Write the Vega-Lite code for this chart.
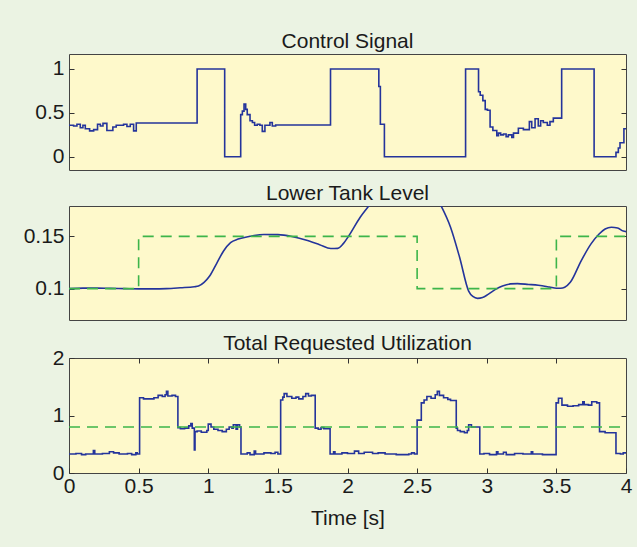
{
  "$schema": "https://vega.github.io/schema/vega-lite/v6.json",
  "background": "#EBF3E3",
  "padding": {"left": 20, "top": 30, "right": 11, "bottom": 36},
  "config": {
    "font": "Liberation Sans",
    "view": {"fill": "#FEF9CB", "stroke": "#444444", "strokeWidth": 1},
    "axis": {"labelFont": "Liberation Sans", "labelFontSize": 21, "labelColor": "#1a1a1a", "domain": false, "grid": false, "tickColor": "#333333", "tickSize": -5, "labelPadding": 10, "titleFont": "Liberation Sans", "titleFontSize": 21, "titleFontWeight": "normal", "titleColor": "#1a1a1a", "labelFlush": false},
    "title": {"font": "Liberation Sans", "fontSize": 21, "fontWeight": "normal", "color": "#1a1a1a", "offset": 2, "frame": "group"},
    "concat": {"spacing": 11}
  },
  "datasets": {
    "control": [
      {"t": 0, "v": 0.36}, {"t": 0.033, "v": 0.35}, {"t": 0.057, "v": 0.37}, {"t": 0.081, "v": 0.33}, {"t": 0.1, "v": 0.36},
      {"t": 0.117, "v": 0.32}, {"t": 0.148, "v": 0.295}, {"t": 0.177, "v": 0.31}, {"t": 0.205, "v": 0.37}, {"t": 0.225, "v": 0.35},
      {"t": 0.244, "v": 0.38}, {"t": 0.272, "v": 0.3}, {"t": 0.315, "v": 0.34}, {"t": 0.339, "v": 0.36}, {"t": 0.392, "v": 0.37},
      {"t": 0.416, "v": 0.345}, {"t": 0.44, "v": 0.37}, {"t": 0.464, "v": 0.295}, {"t": 0.483, "v": 0.385},
      {"t": 0.92, "v": 1}, {"t": 1.118, "v": 0}, {"t": 1.233, "v": 0.48}, {"t": 1.245, "v": 0.52}, {"t": 1.257, "v": 0.6},
      {"t": 1.269, "v": 0.54}, {"t": 1.28, "v": 0.48}, {"t": 1.3, "v": 0.41}, {"t": 1.317, "v": 0.39}, {"t": 1.333, "v": 0.36},
      {"t": 1.352, "v": 0.37}, {"t": 1.371, "v": 0.36}, {"t": 1.388, "v": 0.29}, {"t": 1.407, "v": 0.36}, {"t": 1.443, "v": 0.39},
      {"t": 1.46, "v": 0.35}, {"t": 1.484, "v": 0.362}, {"t": 1.878, "v": 1}, {"t": 2.225, "v": 0.8}, {"t": 2.236, "v": 0.37},
      {"t": 2.265, "v": 0}, {"t": 2.848, "v": 1}, {"t": 2.941, "v": 0.74}, {"t": 2.953, "v": 0.7}, {"t": 2.972, "v": 0.64},
      {"t": 2.989, "v": 0.54}, {"t": 3.005, "v": 0.53}, {"t": 3.024, "v": 0.34}, {"t": 3.044, "v": 0.3}, {"t": 3.072, "v": 0.24},
      {"t": 3.084, "v": 0.27}, {"t": 3.1, "v": 0.25}, {"t": 3.12, "v": 0.26}, {"t": 3.139, "v": 0.23}, {"t": 3.155, "v": 0.25},
      {"t": 3.18, "v": 0.22}, {"t": 3.192, "v": 0.27}, {"t": 3.227, "v": 0.325}, {"t": 3.263, "v": 0.31}, {"t": 3.306, "v": 0.4},
      {"t": 3.323, "v": 0.33}, {"t": 3.347, "v": 0.434}, {"t": 3.37, "v": 0.35}, {"t": 3.387, "v": 0.41}, {"t": 3.406, "v": 0.39},
      {"t": 3.435, "v": 0.36}, {"t": 3.454, "v": 0.4}, {"t": 3.478, "v": 0.44}, {"t": 3.538, "v": 1}, {"t": 3.771, "v": 0},
      {"t": 3.928, "v": 0.05}, {"t": 3.945, "v": 0.1}, {"t": 3.957, "v": 0.16}, {"t": 3.985, "v": 0.32}, {"t": 4.0, "v": 0.32}
    ],
    "level": [
      {"t": 0, "v": 0.1}, {"t": 0.1, "v": 0.1005}, {"t": 0.2, "v": 0.1005}, {"t": 0.3, "v": 0.1002}, {"t": 0.4, "v": 0.1},
      {"t": 0.5, "v": 0.0998}, {"t": 0.6, "v": 0.0998}, {"t": 0.7, "v": 0.1}, {"t": 0.8, "v": 0.1008}, {"t": 0.9, "v": 0.1018},
      {"t": 0.93, "v": 0.1025}, {"t": 0.97, "v": 0.106}, {"t": 1.01, "v": 0.112}, {"t": 1.06, "v": 0.124}, {"t": 1.11, "v": 0.136},
      {"t": 1.16, "v": 0.144}, {"t": 1.215, "v": 0.1474}, {"t": 1.3, "v": 0.15}, {"t": 1.4, "v": 0.1518}, {"t": 1.5, "v": 0.1516},
      {"t": 1.6, "v": 0.1498}, {"t": 1.7, "v": 0.1465}, {"t": 1.8, "v": 0.142}, {"t": 1.88, "v": 0.1383}, {"t": 1.93, "v": 0.1385},
      {"t": 1.97, "v": 0.143}, {"t": 2.01, "v": 0.1506}, {"t": 2.09, "v": 0.168}, {"t": 2.165, "v": 0.181}, {"t": 2.25, "v": 0.195},
      {"t": 2.35, "v": 0.205}, {"t": 2.45, "v": 0.208}, {"t": 2.55, "v": 0.203}, {"t": 2.62, "v": 0.192}, {"t": 2.665, "v": 0.181},
      {"t": 2.74, "v": 0.1587}, {"t": 2.805, "v": 0.13}, {"t": 2.87, "v": 0.0977}, {"t": 2.9, "v": 0.0925}, {"t": 2.934, "v": 0.0907},
      {"t": 2.97, "v": 0.0915}, {"t": 3.01, "v": 0.0945}, {"t": 3.06, "v": 0.099}, {"t": 3.113, "v": 0.1025}, {"t": 3.17, "v": 0.1045},
      {"t": 3.22, "v": 0.1048}, {"t": 3.3, "v": 0.104}, {"t": 3.37, "v": 0.1032}, {"t": 3.45, "v": 0.1015}, {"t": 3.5, "v": 0.1003},
      {"t": 3.53, "v": 0.1003}, {"t": 3.56, "v": 0.1013}, {"t": 3.6, "v": 0.106}, {"t": 3.678, "v": 0.1266}, {"t": 3.75, "v": 0.143},
      {"t": 3.805, "v": 0.152}, {"t": 3.85, "v": 0.157}, {"t": 3.895, "v": 0.1587}, {"t": 3.94, "v": 0.158}, {"t": 3.98, "v": 0.155},
      {"t": 4.0, "v": 0.1545}
    ],
    "levelRef": [
      {"t": 0, "v": 0.1}, {"t": 0.5, "v": 0.1}, {"t": 0.5, "v": 0.15}, {"t": 2.5, "v": 0.15}, {"t": 2.5, "v": 0.1},
      {"t": 3.5, "v": 0.1}, {"t": 3.5, "v": 0.15}, {"t": 4, "v": 0.15}
    ],
    "util": [
      {"t": 0, "v": 0.33}, {"t": 0.05, "v": 0.34}, {"t": 0.09, "v": 0.32}, {"t": 0.12, "v": 0.33}, {"t": 0.175, "v": 0.39},
      {"t": 0.185, "v": 0.33}, {"t": 0.24, "v": 0.34}, {"t": 0.29, "v": 0.37}, {"t": 0.32, "v": 0.35}, {"t": 0.36, "v": 0.33},
      {"t": 0.42, "v": 0.34}, {"t": 0.45, "v": 0.32}, {"t": 0.48, "v": 0.35}, {"t": 0.49, "v": 0.33}, {"t": 0.507, "v": 1.31},
      {"t": 0.535, "v": 1.29}, {"t": 0.61, "v": 1.31}, {"t": 0.64, "v": 1.35}, {"t": 0.67, "v": 1.33}, {"t": 0.69, "v": 1.36},
      {"t": 0.7, "v": 1.42}, {"t": 0.71, "v": 1.34}, {"t": 0.74, "v": 1.35}, {"t": 0.765, "v": 1.33}, {"t": 0.782, "v": 0.79},
      {"t": 0.8, "v": 0.77}, {"t": 0.83, "v": 0.78}, {"t": 0.86, "v": 0.82}, {"t": 0.875, "v": 0.86}, {"t": 0.885, "v": 0.78},
      {"t": 0.9, "v": 0.4}, {"t": 0.905, "v": 0.72}, {"t": 0.92, "v": 0.73}, {"t": 0.95, "v": 0.71}, {"t": 0.99, "v": 0.74},
      {"t": 1.0, "v": 0.85}, {"t": 1.02, "v": 0.8}, {"t": 1.04, "v": 0.76}, {"t": 1.07, "v": 0.74}, {"t": 1.1, "v": 0.72},
      {"t": 1.13, "v": 0.76}, {"t": 1.15, "v": 0.8}, {"t": 1.17, "v": 0.78}, {"t": 1.18, "v": 0.84}, {"t": 1.2, "v": 0.76},
      {"t": 1.21, "v": 0.84}, {"t": 1.225, "v": 0.8}, {"t": 1.235, "v": 0.33}, {"t": 1.28, "v": 0.35}, {"t": 1.3, "v": 0.32},
      {"t": 1.33, "v": 0.38}, {"t": 1.34, "v": 0.33}, {"t": 1.4, "v": 0.35}, {"t": 1.45, "v": 0.34}, {"t": 1.48, "v": 0.36},
      {"t": 1.5, "v": 0.33}, {"t": 1.52, "v": 1.27}, {"t": 1.535, "v": 1.32}, {"t": 1.545, "v": 1.38}, {"t": 1.565, "v": 1.33},
      {"t": 1.6, "v": 1.3}, {"t": 1.63, "v": 1.32}, {"t": 1.65, "v": 1.29}, {"t": 1.68, "v": 1.33}, {"t": 1.7, "v": 1.38},
      {"t": 1.72, "v": 1.34}, {"t": 1.74, "v": 1.35}, {"t": 1.768, "v": 0.78}, {"t": 1.79, "v": 0.76}, {"t": 1.81, "v": 0.79},
      {"t": 1.83, "v": 0.77}, {"t": 1.875, "v": 0.33}, {"t": 1.9, "v": 0.37}, {"t": 1.91, "v": 0.33}, {"t": 1.96, "v": 0.35},
      {"t": 2.0, "v": 0.34}, {"t": 2.05, "v": 0.38}, {"t": 2.08, "v": 0.34}, {"t": 2.12, "v": 0.36}, {"t": 2.18, "v": 0.34},
      {"t": 2.22, "v": 0.35}, {"t": 2.27, "v": 0.33}, {"t": 2.35, "v": 0.32}, {"t": 2.44, "v": 0.33}, {"t": 2.46, "v": 0.35},
      {"t": 2.48, "v": 0.33}, {"t": 2.5, "v": 0.92}, {"t": 2.53, "v": 1.22}, {"t": 2.55, "v": 1.27}, {"t": 2.57, "v": 1.33},
      {"t": 2.6, "v": 1.3}, {"t": 2.63, "v": 1.36}, {"t": 2.645, "v": 1.42}, {"t": 2.66, "v": 1.35}, {"t": 2.69, "v": 1.31},
      {"t": 2.72, "v": 1.28}, {"t": 2.74, "v": 1.26}, {"t": 2.781, "v": 0.78}, {"t": 2.79, "v": 0.74}, {"t": 2.81, "v": 0.72},
      {"t": 2.84, "v": 0.7}, {"t": 2.86, "v": 0.74}, {"t": 2.87, "v": 0.84}, {"t": 2.89, "v": 0.8}, {"t": 2.95, "v": 0.33},
      {"t": 2.98, "v": 0.34}, {"t": 3.02, "v": 0.32}, {"t": 3.07, "v": 0.37}, {"t": 3.08, "v": 0.33}, {"t": 3.12, "v": 0.36},
      {"t": 3.14, "v": 0.32}, {"t": 3.2, "v": 0.34}, {"t": 3.26, "v": 0.33}, {"t": 3.32, "v": 0.37}, {"t": 3.33, "v": 0.33},
      {"t": 3.4, "v": 0.32}, {"t": 3.498, "v": 1.22}, {"t": 3.515, "v": 1.3}, {"t": 3.54, "v": 1.18}, {"t": 3.58, "v": 1.16},
      {"t": 3.62, "v": 1.17}, {"t": 3.66, "v": 1.19}, {"t": 3.69, "v": 1.24}, {"t": 3.7, "v": 1.19}, {"t": 3.73, "v": 1.18},
      {"t": 3.754, "v": 1.24}, {"t": 3.79, "v": 1.22}, {"t": 3.81, "v": 0.72}, {"t": 3.85, "v": 0.7}, {"t": 3.928, "v": 0.34},
      {"t": 3.96, "v": 0.33}, {"t": 3.98, "v": 0.35}, {"t": 4.0, "v": 0.35}
    ],
    "utilRef": [
      {"t": 0, "v": 0.8}, {"t": 4, "v": 0.8}
    ]
  },
  "vconcat": [
    {
      "title": "Control Signal",
      "width": 557,
      "height": 116,
      "layer": [
        {
          "data": {"name": "control"},
          "mark": {"type": "line", "interpolate": "step-after", "color": "#24349B", "strokeWidth": 1.6, "clip": true},
          "encoding": {
            "x": {"field": "t", "type": "quantitative", "scale": {"domain": [0, 4], "nice": false}, "axis": null},
            "y": {"field": "v", "type": "quantitative", "scale": {"domain": [-0.15, 1.17], "nice": false, "zero": false},
                  "axis": {"title": null, "values": [0, 0.5, 1], "format": "~g", "minExtent": 48, "maxExtent": 48}}
          }
        },
        {
          "data": {"name": "control"},
          "mark": {"type": "line", "opacity": 0},
          "encoding": {
            "x": {"field": "t", "type": "quantitative", "axis": null},
            "y": {"field": "v", "type": "quantitative", "axis": {"orient": "right", "title": null, "labels": false, "values": [0, 0.5, 1], "minExtent": 0, "maxExtent": 0}}
          }
        }
      ],
      "resolve": {"axis": {"y": "independent"}}
    },
    {
      "title": "Lower Tank Level",
      "width": 557,
      "height": 114,
      "layer": [
        {
          "data": {"name": "level"},
          "mark": {"type": "line", "interpolate": "monotone", "color": "#24349B", "strokeWidth": 1.6, "clip": true},
          "encoding": {
            "x": {"field": "t", "type": "quantitative", "scale": {"domain": [0, 4], "nice": false}, "axis": null},
            "y": {"field": "v", "type": "quantitative", "scale": {"domain": [0.07, 0.179], "nice": false, "zero": false},
                  "axis": {"title": null, "values": [0.1, 0.15], "format": "~g", "minExtent": 48, "maxExtent": 48}}
          }
        },
        {
          "data": {"name": "levelRef"},
          "mark": {"type": "line", "color": "#3DB54A", "strokeWidth": 1.6, "strokeDash": [11, 7], "clip": true},
          "encoding": {
            "x": {"field": "t", "type": "quantitative", "axis": null},
            "y": {"field": "v", "type": "quantitative", "axis": {"orient": "right", "title": null, "labels": false, "values": [0.1, 0.15], "minExtent": 0, "maxExtent": 0}}
          }
        }
      ],
      "resolve": {"axis": {"y": "independent"}}
    },
    {
      "title": {"text": "Total Requested Utilization", "offset": -7},
      "width": 557,
      "height": 115,
      "layer": [
        {
          "data": {"name": "util"},
          "mark": {"type": "line", "interpolate": "step-after", "color": "#24349B", "strokeWidth": 1.6, "clip": true},
          "encoding": {
            "x": {"field": "t", "type": "quantitative", "scale": {"domain": [0, 4], "nice": false},
                  "axis": {"orient": "bottom", "title": "Time [s]", "values": [0, 0.5, 1, 1.5, 2, 2.5, 3, 3.5, 4], "format": "~g", "labelPadding": 7, "titlePadding": 11}},
            "y": {"field": "v", "type": "quantitative", "scale": {"domain": [0, 2], "nice": false},
                  "axis": {"title": null, "values": [0, 1, 2], "format": "~g", "minExtent": 48, "maxExtent": 48}}
          }
        },
        {
          "data": {"name": "utilRef"},
          "mark": {"type": "line", "color": "#3DB54A", "strokeWidth": 1.6, "strokeDash": [11, 7], "clip": true},
          "encoding": {
            "x": {"field": "t", "type": "quantitative", "axis": {"orient": "top", "title": null, "labels": false, "values": [0.5, 1, 1.5, 2, 2.5, 3, 3.5], "minExtent": 0, "maxExtent": 0}},
            "y": {"field": "v", "type": "quantitative", "axis": {"orient": "right", "title": null, "labels": false, "values": [1], "minExtent": 0, "maxExtent": 0}}
          }
        }
      ],
      "resolve": {"axis": {"x": "independent", "y": "independent"}}
    }
  ]
}
